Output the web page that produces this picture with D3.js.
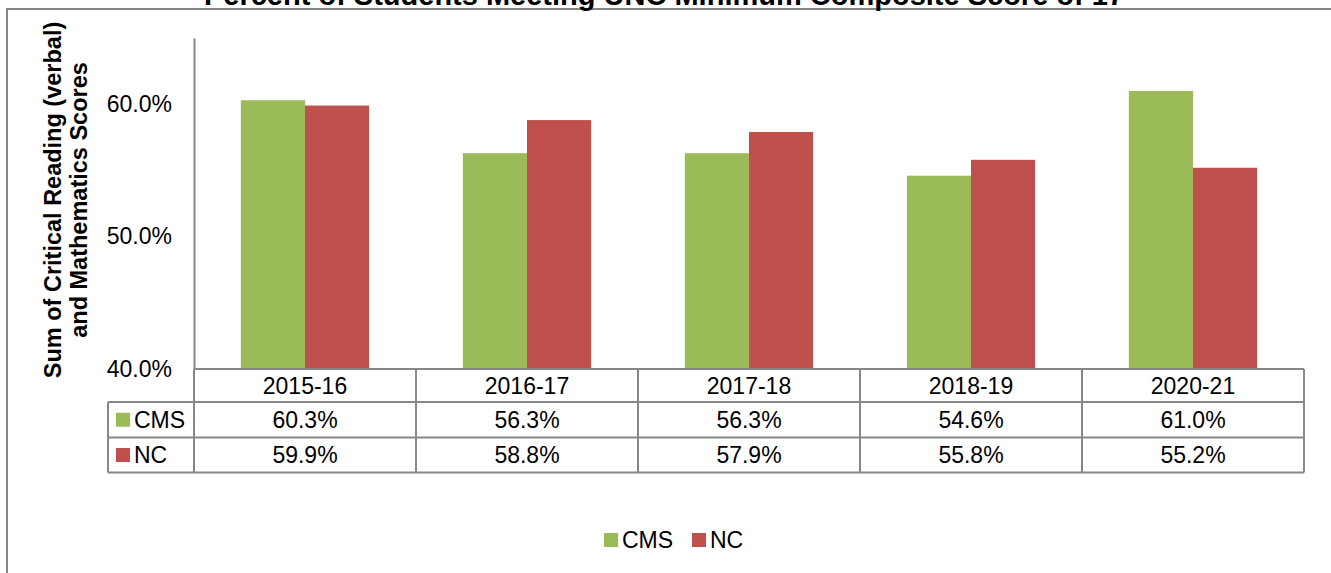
<!DOCTYPE html>
<html>
<head>
<meta charset="utf-8">
<script src="https://cdn.jsdelivr.net/npm/d3@7"></script>
<style>
  body { margin: 0; background: #fff; }
  svg { display: block; font-family: "Liberation Sans", Arial, sans-serif; }
</style>
</head>
<body>
<script>
var width = 1331,
    height = 573;

// data
var categories = ["2015-16", "2016-17", "2017-18", "2018-19", "2020-21"];
var seriesNames = ["CMS", "NC"];
var cmsValues = [60.3, 56.3, 56.3, 54.6, 61.0];
var ncValues = [59.9, 58.8, 57.9, 55.8, 55.2];
var yTicks = [40, 50, 60];
var colors = ["#9bbb59", "#c0504d"];

var values = [cmsValues, ncValues];
var gridColor = "#878787";
var fontSize = 23;

var svg = d3.select("body").append("svg")
    .attr("width", width)
    .attr("height", height);

// outer chart border (only top & left are visible in the crop)
svg.append("path")
    .attr("d", "M7,573 V9 H1331")
    .attr("fill", "none")
    .attr("stroke", gridColor)
    .attr("stroke-width", 2);

// title, mostly cut off above the picture (as in the original)
svg.append("text")
    .attr("x", 664)
    .attr("y", 5)
    .attr("text-anchor", "middle")
    .style("font-weight", "bold")
    .style("font-size", "29px")
    .text("Percent of Students Meeting UNC Minimum Composite Score of 17");

var plot = { left: 194, right: 1304, top: 38, bottom: 369 };

var x = d3.scaleBand()
    .domain(categories)
    .range([plot.left, plot.right])
    .padding(0);

var xInner = d3.scaleBand()
    .domain(seriesNames)
    .range([0, x.bandwidth()])
    .paddingInner(0)
    .paddingOuter(0.73);

var y = d3.scaleLinear()
    .domain([40, 65])
    .range([plot.bottom, plot.top]);

// bars
var groups = svg.append("g").attr("class", "bars")
    .selectAll("g")
    .data(categories)
    .enter()
    .append("g")
    .attr("transform", function (d) { return "translate(" + x(d) + ",0)"; });

groups.selectAll("rect")
    .data(function (d, i) {
        return seriesNames.map(function (s, k) {
            return { series: s, value: values[k][i], color: colors[k] };
        });
    })
    .enter()
    .append("rect")
    .attr("x", function (d) { return xInner(d.series); })
    .attr("y", function (d) { return y(d.value); })
    .attr("width", xInner.bandwidth())
    .attr("height", function (d) { return y(40) - y(d.value); })
    .attr("fill", function (d) { return d.color; });

// y axis
var yAxis = svg.append("g")
    .attr("transform", "translate(" + plot.left + ",0)")
    .call(d3.axisLeft(y)
        .tickValues(yTicks)
        .tickSize(0)
        .tickPadding(22)
        .tickFormat(function (d) { return d.toFixed(1) + "%"; }));

yAxis.select(".domain")
    .attr("stroke", gridColor)
    .attr("stroke-width", 2);
yAxis.selectAll("text")
    .style("font-size", fontSize + "px")
    .style("font-family", "'Liberation Sans', Arial, sans-serif")
    .attr("fill", "#000");

// y axis title
var yTitle = svg.append("text")
    .attr("transform", "translate(61,200) rotate(-90)")
    .attr("text-anchor", "middle")
    .style("font-weight", "bold")
    .style("font-size", "23.5px");
yTitle.append("tspan").attr("x", 0).attr("dy", 0).text("Sum of Critical Reading (verbal)");
yTitle.append("tspan").attr("x", 0).attr("dy", 26).text("and Mathematics Scores");

// data table
var rowTops = [369, 402, 437.5];
var rowBottom = 472.5;
var legendLeft = 108;
var table = svg.append("g").attr("class", "table");

function line(x1, y1, x2, y2) {
    table.append("line")
        .attr("x1", x1).attr("y1", y1)
        .attr("x2", x2).attr("y2", y2)
        .attr("stroke", gridColor)
        .attr("stroke-width", 2);
}

// horizontal lines
line(plot.left, rowTops[0], plot.right, rowTops[0]);
line(legendLeft, rowTops[1], plot.right, rowTops[1]);
line(legendLeft, rowTops[2], plot.right, rowTops[2]);
line(legendLeft, rowBottom, plot.right, rowBottom);
// vertical lines
line(legendLeft, rowTops[1], legendLeft, rowBottom);
categories.forEach(function (c) {
    line(x(c), rowTops[0], x(c), rowBottom);
});
line(plot.right, rowTops[0], plot.right, rowBottom);

// header labels
table.selectAll("text.cat")
    .data(categories)
    .enter()
    .append("text")
    .attr("class", "cat")
    .attr("x", function (d) { return x(d) + x.bandwidth() / 2; })
    .attr("y", (rowTops[0] + rowTops[1]) / 2)
    .attr("dy", "0.35em")
    .attr("text-anchor", "middle")
    .style("font-size", fontSize + "px")
    .text(function (d) { return d; });

// value rows
seriesNames.forEach(function (s, k) {
    var top = rowTops[k + 1];
    var bottom = k + 2 < rowTops.length ? rowTops[k + 2] : rowBottom;
    var mid = (top + bottom) / 2;

    table.append("rect")
        .attr("x", 116)
        .attr("y", mid - 7)
        .attr("width", 14)
        .attr("height", 14)
        .attr("fill", colors[k]);
    table.append("text")
        .attr("x", 134)
        .attr("y", mid)
        .attr("dy", "0.35em")
        .style("font-size", fontSize + "px")
        .text(s);

    table.selectAll("text.v" + k)
        .data(values[k])
        .enter()
        .append("text")
        .attr("class", "v" + k)
        .attr("x", function (d, i) { return x(categories[i]) + x.bandwidth() / 2; })
        .attr("y", mid)
        .attr("dy", "0.35em")
        .attr("text-anchor", "middle")
        .style("font-size", fontSize + "px")
        .text(function (d) { return d.toFixed(1) + "%"; });
});

// bottom legend
var legend = svg.append("g").attr("class", "legend");
var legendItems = [{ name: "CMS", x: 604 }, { name: "NC", x: 692 }];
legendItems.forEach(function (d, k) {
    legend.append("rect")
        .attr("x", d.x)
        .attr("y", 533)
        .attr("width", 14)
        .attr("height", 14)
        .attr("fill", colors[k]);
    legend.append("text")
        .attr("x", d.x + 18)
        .attr("y", 540)
        .attr("dy", "0.35em")
        .style("font-size", fontSize + "px")
        .text(d.name);
});
</script>
</body>
</html>
